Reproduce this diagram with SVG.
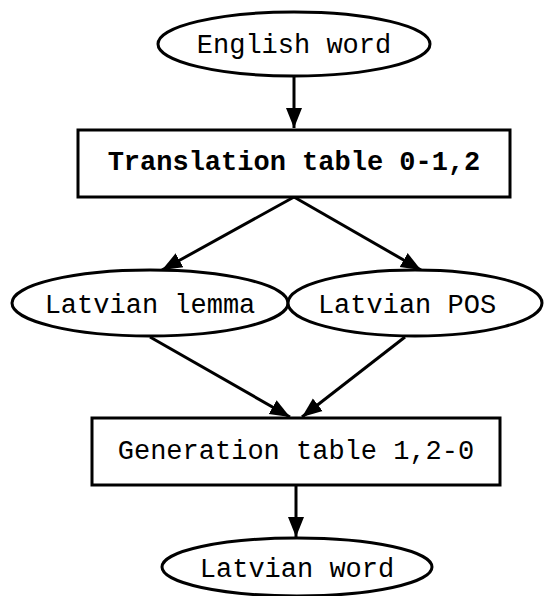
<svg xmlns="http://www.w3.org/2000/svg" width="546" height="596" viewBox="0 0 546 596">
<style>
.shape{fill:#fff;stroke:#000;stroke-width:3}
.edge{stroke:#000;stroke-width:3;fill:none}
text{font-family:"Liberation Mono","Courier New",monospace;font-size:27px;fill:#000;text-anchor:middle}
.b{font-weight:bold}
</style>
<defs>
<marker id="arr" markerUnits="userSpaceOnUse" markerWidth="22" markerHeight="22" viewBox="0 0 22 22" refX="20" refY="11" orient="auto">
<path d="M0,3 L20,11 L0,19 z" fill="#000"/>
</marker>
</defs>
<g id="connectors">
<line class="edge" x1="294" y1="76" x2="294" y2="128" marker-end="url(#arr)"/>
<line class="edge" x1="294" y1="197" x2="162" y2="270" marker-end="url(#arr)"/>
<line class="edge" x1="294" y1="197" x2="421" y2="270" marker-end="url(#arr)"/>
<line class="edge" x1="150" y1="337" x2="290" y2="417" marker-end="url(#arr)"/>
<line class="edge" x1="405" y1="337" x2="302" y2="417" marker-end="url(#arr)"/>
<line class="edge" x1="296" y1="485" x2="296" y2="537" marker-end="url(#arr)"/>
</g>
<g id="english-word">
<ellipse class="shape" cx="294" cy="44" rx="136" ry="32"/>
<text x="294" y="53">English word</text>
</g>
<g id="translation-table">
<rect class="shape" x="78" y="130" width="432" height="67"/>
<text class="b" x="294" y="170">Translation table 0-1,2</text>
</g>
<g id="latvian-lemma">
<ellipse class="shape" cx="150" cy="303" rx="138" ry="33"/>
<text x="150" y="313">Latvian lemma</text>
</g>
<g id="latvian-pos">
<ellipse class="shape" cx="415" cy="303" rx="127" ry="33"/>
<text x="407" y="313">Latvian POS</text>
</g>
<g id="generation-table">
<rect class="shape" x="92" y="418" width="408" height="67"/>
<text x="296" y="459">Generation table 1,2-0</text>
</g>
<g id="latvian-word">
<ellipse class="shape" cx="297" cy="567" rx="135" ry="29"/>
<text x="297" y="577">Latvian word</text>
</g>
</svg>
